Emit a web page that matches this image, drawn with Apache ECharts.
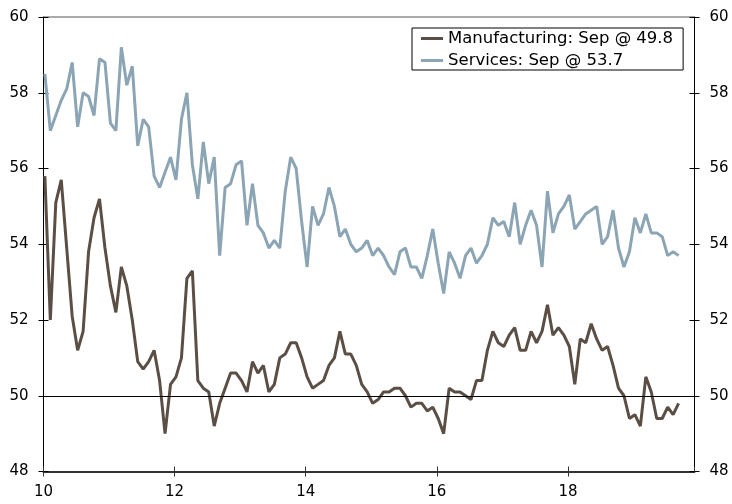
<!DOCTYPE html>
<html>
<head>
<meta charset="UTF-8">
<title>PMI</title>
<script src="https://cdn.jsdelivr.net/npm/echarts@6/dist/echarts.min.js"></script>
<style>
  html, body { margin: 0; padding: 0; background: #fff; }
  #chart { width: 732px; height: 504px; }
</style>
</head>
<body>
<div id="chart"></div>
<script>
// monthly readings, Jan 2010 .. Sep 2019
var startYear = 10, startMonth = 0; // Jan 2010 (0-based month)
var manufacturing = [
  55.8, 52.0, 55.1, 55.7, 53.9, 52.1, 51.2, 51.7, 53.8, 54.7, 55.2, 53.9,
  52.9, 52.2, 53.4, 52.9, 52.0, 50.9, 50.7, 50.9, 51.2, 50.4, 49.0, 50.3,
  50.5, 51.0, 53.1, 53.3, 50.4, 50.2, 50.1, 49.2, 49.8, 50.2, 50.6, 50.6,
  50.4, 50.1, 50.9, 50.6, 50.8, 50.1, 50.3, 51.0, 51.1, 51.4, 51.4, 51.0,
  50.5, 50.2, 50.3, 50.4, 50.8, 51.0, 51.7, 51.1, 51.1, 50.8, 50.3, 50.1,
  49.8, 49.9, 50.1, 50.1, 50.2, 50.2, 50.0, 49.7, 49.8, 49.8, 49.6, 49.7,
  49.4, 49.0, 50.2, 50.1, 50.1, 50.0, 49.9, 50.4, 50.4, 51.2, 51.7, 51.4,
  51.3, 51.6, 51.8, 51.2, 51.2, 51.7, 51.4, 51.7, 52.4, 51.6, 51.8, 51.6,
  51.3, 50.3, 51.5, 51.4, 51.9, 51.5, 51.2, 51.3, 50.8, 50.2, 50.0, 49.4,
  49.5, 49.2, 50.5, 50.1, 49.4, 49.4, 49.7, 49.5, 49.8];
var services = [
  58.5, 57.0, 57.4, 57.8, 58.1, 58.8, 57.1, 58.0, 57.9, 57.4, 58.9, 58.8,
  57.2, 57.0, 59.2, 58.2, 58.7, 56.6, 57.3, 57.1, 55.8, 55.5, 55.9, 56.3,
  55.7, 57.3, 58.0, 56.1, 55.2, 56.7, 55.6, 56.3, 53.7, 55.5, 55.6, 56.1,
  56.2, 54.5, 55.6, 54.5, 54.3, 53.9, 54.1, 53.9, 55.4, 56.3, 56.0, 54.6,
  53.4, 55.0, 54.5, 54.8, 55.5, 55.0, 54.2, 54.4, 54.0, 53.8, 53.9, 54.1,
  53.7, 53.9, 53.7, 53.4, 53.2, 53.8, 53.9, 53.4, 53.4, 53.1, 53.7, 54.4,
  53.5, 52.7, 53.8, 53.5, 53.1, 53.7, 53.9, 53.5, 53.7, 54.0, 54.7, 54.5,
  54.6, 54.2, 55.1, 54.0, 54.5, 54.9, 54.5, 53.4, 55.4, 54.3, 54.8, 55.0,
  55.3, 54.4, 54.6, 54.8, 54.9, 55.0, 54.0, 54.2, 54.9, 53.9, 53.4, 53.8,
  54.7, 54.3, 54.8, 54.3, 54.3, 54.2, 53.7, 53.8, 53.7];
var seriesNames = ['Manufacturing: Sep @ 49.8', 'Services: Sep @ 53.7'];
var xTicks = [10, 12, 14, 16, 18];
var yTicks = [48, 50, 52, 54, 56, 58, 60];

function toPoints(vals) {
  return vals.map(function (v, i) {
    return [startYear + (startMonth + i + 0.25) / 12, v];
  });
}

var font = 'DejaVu Sans';
var xMin = xTicks[0], xMax = 19.93;
var yMin = yTicks[0], yMax = yTicks[yTicks.length - 1];

function yAx(pos, inside, labels) {
  return {
    type: 'value', position: pos, min: yMin, max: yMax, interval: 2,
    axisLine: { show: !inside, lineStyle: { color: '#000', width: 1 } },
    axisTick: { show: true, inside: inside, length: 5, lineStyle: { color: '#000' } },
    axisLabel: { show: labels, margin: 15, color: '#000', fontFamily: font, fontSize: 15 },
    splitLine: { show: false }
  };
}
function xAx(inside, labels) {
  return {
    type: 'value', position: 'bottom', min: xMin, max: xMax, interval: 2,
    axisLine: { show: !inside, onZero: false, lineStyle: { color: '#333', width: 2 } },
    axisTick: { show: true, inside: inside, length: 5, lineStyle: { color: '#333', width: 1 } },
    axisLabel: {
      show: labels, margin: 13, color: '#000', fontFamily: font, fontSize: 15,
      showMaxLabel: false,
      formatter: function (v) { return xTicks.indexOf(v) >= 0 ? String(v) : ''; }
    },
    splitLine: { show: false }
  };
}

var chart = echarts.init(document.getElementById('chart'));
chart.setOption({
  animation: false,
  grid: { left: 43.5, right: 37.5, top: 17, bottom: 32.5, show: true, borderColor: '#555', borderWidth: 1 },
  legend: {
    orient: 'vertical', left: 412, top: 28,
    backgroundColor: '#fff',
    borderColor: '#000', borderWidth: 1, borderRadius: 0,
    padding: [2, 10, 1, 9],
    itemWidth: 22, itemHeight: 3, itemGap: 5,
    icon: 'rect',
    textStyle: { fontFamily: font, fontSize: 16.5, color: '#000' },
    data: seriesNames
  },
  xAxis: [xAx(false, true), xAx(true, false)],
  yAxis: [yAx('left', false, true), yAx('right', false, true), yAx('left', true, false), yAx('right', true, false)],
  series: [
    {
      name: seriesNames[0], type: 'line', data: toPoints(manufacturing),
      symbol: 'none', clip: true,
      lineStyle: { color: '#5b4f45', width: 3 }, itemStyle: { color: '#5b4f45' },
      markLine: {
        silent: true, symbol: 'none', label: { show: false },
        lineStyle: { color: '#000', width: 1, type: 'solid' },
        data: [{ yAxis: 50 }]
      },
      z: 3
    },
    {
      name: seriesNames[1], type: 'line', data: toPoints(services),
      symbol: 'none', clip: true,
      lineStyle: { color: '#8ba5b4', width: 3 }, itemStyle: { color: '#8ba5b4' },
      z: 2
    }
  ]
});
</script>
</body>
</html>
